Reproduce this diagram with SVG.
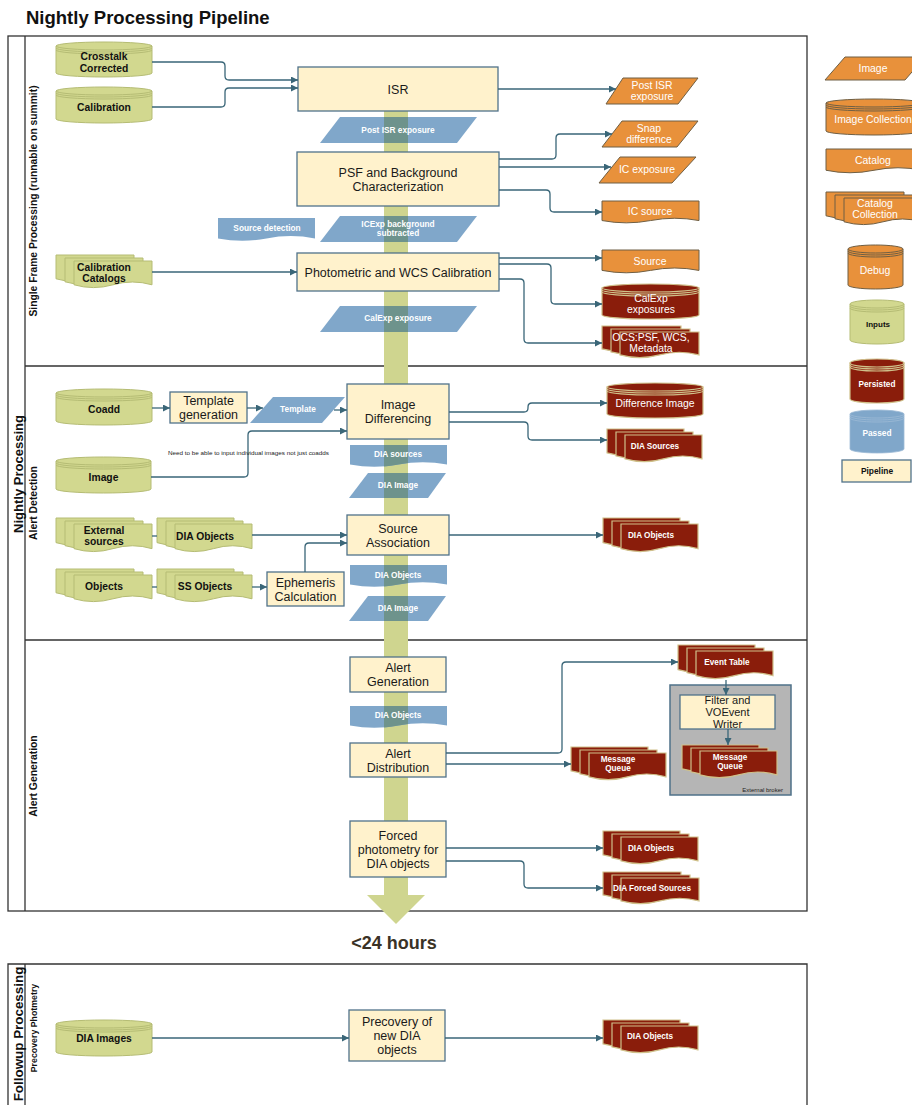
<svg xmlns="http://www.w3.org/2000/svg" width="912" height="1105" viewBox="0 0 912 1105">
<defs>
<style>
.t{font-family:"Liberation Sans",Arial,Helvetica,sans-serif;text-anchor:middle}
.title{font-family:"Liberation Sans",Arial,sans-serif;font-weight:bold;font-size:18.5px;fill:#111}
.lane{font-family:"Liberation Sans",Arial,sans-serif;font-weight:bold;fill:#111;text-anchor:middle}
.frame{fill:none;stroke:#333;stroke-width:1.3}
.box{fill:#fff2cc;stroke:#50728a;stroke-width:1.3}
.g{fill:#d2d88f;stroke:#b5bc74;stroke-width:1}
.o{fill:#e8913b;stroke:#6f5f44;stroke-width:1}
.r{fill:#8a1d0b;stroke:#cfc08a;stroke-width:1.2}
.bm{fill:#80a7ca}
.ov{fill:#6e938c}
.bl{fill:#80a7ca;stroke:#9dbad6;stroke-width:0.8}
.rim{fill:none}
.tp{font-size:12.5px;fill:#1a1a1a}
.tg{font-size:10.3px;font-weight:bold;fill:#111}
.tw{font-size:8.3px;font-weight:bold;fill:#fff}
.to{font-size:10.4px;fill:#fff}
.trb{font-size:8.2px;font-weight:bold;fill:#fff}
.conn{fill:none;stroke:#3a6678;stroke-width:1.3}
.bar{fill:#cfd58f}
</style>
<marker id="ah" viewBox="0 0 10 10" refX="10" refY="5" markerWidth="8" markerHeight="7" markerUnits="userSpaceOnUse" orient="auto"><path d="M0,0 L10,5 L0,10 Z" fill="#3a6678"/></marker>
</defs>
<rect width="912" height="1105" fill="#fff"/>
<text class="title" x="26" y="23.5">Nightly Processing Pipeline</text>

<g id="frames">
<rect class="frame" x="8" y="36" width="799" height="875"/>
<path class="frame" d="M25,36 V911 M25,366 H807 M25,640 H807"/>
<path class="frame" d="M8,1106 V964 H807 V1106 M25,964 V1106"/>
<text class="lane" font-size="13" transform="translate(22.5,474) rotate(-90)">Nightly Processing</text>
<text class="lane" font-size="10.3" transform="translate(37,201) rotate(-90)">Single Frame Processing (runnable on summit)</text>
<text class="lane" font-size="10.4" transform="translate(37,503) rotate(-90)">Alert Detection</text>
<text class="lane" font-size="10.4" transform="translate(37,776) rotate(-90)">Alert Generation</text>
<text class="lane" font-size="13.4" transform="translate(22.5,1034) rotate(-90)">Followup Processing</text>
<text class="lane" font-size="8.8" transform="translate(37,1028) rotate(-90)">Precovery Photmetry</text>
</g>

<g id="flow-bar">
<rect class="bar" x="384" y="111" width="24" height="785"/>
<polygon class="bar" points="367,895 425,895 396,924"/>
</g>
<text class="t" x="394" y="949" font-size="18" font-weight="bold" fill="#3a3226">&lt;24 hours</text>

<!-- blue passed data -->
<g id="post-isr-passed"><polygon class="bm" points="340,117 477,117 457,143 320,143"/><rect class="ov" x="384" y="117" width="24" height="26"/><text class="t tw" x="398" y="133">Post ISR exposure</text></g>
<g id="icexp-passed"><polygon class="bm" points="340,216 477,216 457,242 320,242"/><rect class="ov" x="384" y="216" width="24" height="26"/><text class="t tw" x="398" y="227">ICExp background</text><text class="t tw" x="398" y="236">subtracted</text></g>
<g id="calexp-passed"><polygon class="bm" points="340,306 477,306 457,332 320,332"/><rect class="ov" x="384" y="306" width="24" height="26"/><text class="t tw" x="398" y="321">CalExp exposure</text></g>
<g id="source-detection"><path class="bm" d="M218,218 H315 V238.4 Q290.75,233.6 266.5,238.4 T218,238.4 Z"/><text class="t tw" x="267" y="231">Source detection</text></g>
<g id="template-passed"><polygon class="bm" points="273,397 345,397 322,423 250,423"/><text class="t tw" x="298" y="412">Template</text></g>
<g id="dia-sources-passed"><path class="bm" d="M350,445 H447 V464.55 Q422.75,459.95 398.5,464.55 T350,464.55 Z"/><path class="ov" d="M384,445 H408 V463.1 L398.5,464.55 L391,465.75 L384,466.5 Z"/><text class="t tw" x="398" y="457">DIA sources</text></g>
<g id="dia-image-passed-1"><polygon class="bm" points="368,473 446,473 428,498 349,498"/><rect class="ov" x="384" y="473" width="24" height="25"/><text class="t tw" x="398" y="488">DIA Image</text></g>
<g id="dia-objects-passed-1"><path class="bm" d="M350,565 H447 V584.55 Q422.75,579.95 398.5,584.55 T350,584.55 Z"/><path class="ov" d="M384,565 H408 V583.1 L398.5,584.55 L391,585.75 L384,586.5 Z"/><text class="t tw" x="398" y="578">DIA Objects</text></g>
<g id="dia-image-passed-2"><polygon class="bm" points="368,596 446,596 428,621 349,621"/><rect class="ov" x="384" y="596" width="24" height="25"/><text class="t tw" x="398" y="611">DIA Image</text></g>
<g id="dia-objects-passed-2"><path class="bm" d="M350,706 H447 V725.55 Q422.75,720.95 398.5,725.55 T350,725.55 Z"/><path class="ov" d="M384,706 H408 V724.1 L398.5,725.55 L391,726.75 L384,727.5 Z"/><text class="t tw" x="398" y="718">DIA Objects</text></g>

<!-- pipeline boxes -->
<g id="isr"><rect class="box" x="298" y="67" width="200" height="44"/><text class="t tp" x="398" y="93.5" font-size="13">ISR</text></g>
<g id="psf"><rect class="box" x="297" y="152" width="202" height="54"/><text class="t tp" x="398" y="177">PSF and Background</text><text class="t tp" x="398" y="191">Characterization</text></g>
<g id="photometric"><rect class="box" x="297" y="253" width="202" height="38"/><text class="t tp" x="398" y="277">Photometric and WCS Calibration</text></g>
<g id="template-generation"><rect class="box" x="170" y="392" width="77" height="31"/><text class="t tp" x="208.5" y="405">Template</text><text class="t tp" x="208.5" y="419">generation</text></g>
<g id="image-differencing"><rect class="box" x="347" y="384" width="102" height="55"/><text class="t tp" x="398" y="409">Image</text><text class="t tp" x="398" y="423">Differencing</text></g>
<g id="source-association"><rect class="box" x="347" y="515" width="102" height="40"/><text class="t tp" x="398" y="533">Source</text><text class="t tp" x="398" y="547">Association</text></g>
<g id="ephemeris"><rect class="box" x="267" y="572" width="77" height="34"/><text class="t tp" x="305.5" y="587">Ephemeris</text><text class="t tp" x="305.5" y="601">Calculation</text></g>
<g id="alert-generation"><rect class="box" x="350" y="657" width="96" height="35"/><text class="t tp" x="398" y="672">Alert</text><text class="t tp" x="398" y="686">Generation</text></g>
<g id="alert-distribution"><rect class="box" x="350" y="743" width="96" height="34"/><text class="t tp" x="398" y="758">Alert</text><text class="t tp" x="398" y="772">Distribution</text></g>
<g id="forced-photometry"><rect class="box" x="350" y="821" width="96" height="56"/><text class="t tp" x="398" y="840">Forced</text><text class="t tp" x="398" y="854">photometry for</text><text class="t tp" x="398" y="868">DIA objects</text></g>
<g id="precovery"><rect class="box" x="349" y="1010" width="96" height="51"/><text class="t tp" x="397" y="1026">Precovery of</text><text class="t tp" x="397" y="1040">new DIA</text><text class="t tp" x="397" y="1054">objects</text></g>

<!-- inputs (green) -->
<g id="crosstalk-corrected"><path class="g" d="M56,46 V73 A48,4 0 0 0 152,73 V46 Z"/><ellipse class="g" cx="104" cy="46" rx="48" ry="4"/><path class="g rim" d="M56,48 A48,4 0 0 0 152,48 M56,50 A48,4 0 0 0 152,50"/><text class="t tg" x="104" y="60">Crosstalk</text><text class="t tg" x="104" y="71.5">Corrected</text></g>
<g id="calibration"><path class="g" d="M56,91 V119 A48,4 0 0 0 152,119 V91 Z"/><ellipse class="g" cx="104" cy="91" rx="48" ry="4"/><path class="g rim" d="M56,93 A48,4 0 0 0 152,93 M56,95 A48,4 0 0 0 152,95"/><text class="t tg" x="104" y="111">Calibration</text></g>
<g id="calibration-catalogs"><path class="g" d="M56,255 H134 V278.8 Q114.5,273.2 95,278.8 T56,278.8 Z"/><path class="g" d="M65,258 H143 V281.8 Q123.5,276.2 104,281.8 T65,281.8 Z"/><path class="g" d="M74,261 H152 V284.8 Q132.5,279.2 113,284.8 T74,284.8 Z"/><text class="t tg" x="104" y="271">Calibration</text><text class="t tg" x="104" y="282">Catalogs</text></g>
<g id="coadd"><path class="g" d="M56,393 V421 A48,4 0 0 0 152,421 V393 Z"/><ellipse class="g" cx="104" cy="393" rx="48" ry="4"/><path class="g rim" d="M56,395 A48,4 0 0 0 152,395 M56,397 A48,4 0 0 0 152,397"/><text class="t tg" x="104" y="413">Coadd</text></g>
<g id="image-input"><path class="g" d="M56,461 V489 A47.5,4 0 0 0 151,489 V461 Z"/><ellipse class="g" cx="103.5" cy="461" rx="47.5" ry="4"/><path class="g rim" d="M56,463 A47.5,4 0 0 0 151,463 M56,465 A47.5,4 0 0 0 151,465"/><text class="t tg" x="103.5" y="481">Image</text></g>
<g id="external-sources"><path class="g" d="M56,518 H134 V542.65 Q114.5,536.85 95,542.65 T56,542.65 Z"/><path class="g" d="M65,521 H143 V545.65 Q123.5,539.85 104,545.65 T65,545.65 Z"/><path class="g" d="M74,524 H152 V548.65 Q132.5,542.85 113,548.65 T74,548.65 Z"/><text class="t tg" x="104" y="534">External</text><text class="t tg" x="104" y="545">sources</text></g>
<g id="dia-objects-input"><path class="g" d="M157,518 H234 V542.65 Q214.75,536.85 195.5,542.65 T157,542.65 Z"/><path class="g" d="M166,521 H243 V545.65 Q223.75,539.85 204.5,545.65 T166,545.65 Z"/><path class="g" d="M175,524 H252 V548.65 Q232.75,542.85 213.5,548.65 T175,548.65 Z"/><text class="t tg" x="205" y="540">DIA Objects</text></g>
<g id="objects"><path class="g" d="M56,569 H134 V592.8 Q114.5,587.2 95,592.8 T56,592.8 Z"/><path class="g" d="M65,572 H143 V595.8 Q123.5,590.2 104,595.8 T65,595.8 Z"/><path class="g" d="M74,575 H152 V598.8 Q132.5,593.2 113,598.8 T74,598.8 Z"/><text class="t tg" x="104" y="590">Objects</text></g>
<g id="ss-objects"><path class="g" d="M157,569 H234 V592.8 Q214.75,587.2 195.5,592.8 T157,592.8 Z"/><path class="g" d="M166,572 H243 V595.8 Q223.75,590.2 204.5,595.8 T166,595.8 Z"/><path class="g" d="M175,575 H252 V598.8 Q232.75,593.2 213.5,598.8 T175,598.8 Z"/><text class="t tg" x="205" y="590">SS Objects</text></g>
<g id="dia-images"><path class="g" d="M56,1024 V1052 A48,4 0 0 0 152,1052 V1024 Z"/><ellipse class="g" cx="104" cy="1024" rx="48" ry="4"/><path class="g rim" d="M56,1026 A48,4 0 0 0 152,1026 M56,1028 A48,4 0 0 0 152,1028"/><text class="t tg" x="104" y="1042">DIA Images</text></g>

<!-- outputs (orange) -->
<g id="post-isr-exposure"><polygon class="o" points="623,78 698,78 678,104 606,104"/><text class="t to" x="652" y="89">Post ISR</text><text class="t to" x="652" y="100">exposure</text></g>
<g id="snap-difference"><polygon class="o" points="622,121 698,121 677,147 602,147"/><text class="t to" x="649" y="132">Snap</text><text class="t to" x="649" y="143">difference</text></g>
<g id="ic-exposure"><polygon class="o" points="620,157 696,157 672,183 599,183"/><text class="t to" x="647" y="173">IC exposure</text></g>
<g id="ic-source"><path class="o" d="M602,201 H699 V220.55 Q674.75,215.95 650.5,220.55 T602,220.55 Z"/><text class="t to" x="650" y="215">IC source</text></g>
<g id="source"><path class="o" d="M602,250 H699 V270.4 Q674.75,265.6 650.5,270.4 T602,270.4 Z"/><text class="t to" x="650" y="265">Source</text></g>

<!-- persisted (red) -->
<g id="calexp-exposures"><path class="r" d="M602,288 V315 A48.5,4 0 0 0 699,315 V288 Z"/><ellipse class="r" cx="650.5" cy="288" rx="48.5" ry="4"/><path class="r rim" d="M602,290 A48.5,4 0 0 0 699,290 M602,292 A48.5,4 0 0 0 699,292"/><text class="t to" x="651" y="302">CalExp</text><text class="t to" x="651" y="313">exposures</text></g>
<g id="ocs-metadata"><path class="r" d="M602,326 H681 V348.95 Q661.25,343.55 641.5,348.95 T602,348.95 Z"/><path class="r" d="M611,329 H690 V351.95 Q670.25,346.55 650.5,351.95 T611,351.95 Z"/><path class="r" d="M620,332 H699 V354.95 Q679.25,349.55 659.5,354.95 T620,354.95 Z"/><text class="t to" x="651" y="341">OCS:PSF, WCS,</text><text class="t to" x="651" y="352">Metadata</text></g>
<g id="difference-image"><path class="r" d="M607,387 V414 A48,4 0 0 0 703,414 V387 Z"/><ellipse class="r" cx="655" cy="387" rx="48" ry="4"/><path class="r rim" d="M607,389 A48,4 0 0 0 703,389 M607,391 A48,4 0 0 0 703,391"/><text class="t to" x="655" y="407">Difference Image</text></g>
<g id="dia-sources"><path class="r" d="M607,429 H684 V452.8 Q664.75,447.2 645.5,452.8 T607,452.8 Z"/><path class="r" d="M616,432 H693 V455.8 Q673.75,450.2 654.5,455.8 T616,455.8 Z"/><path class="r" d="M625,435 H702 V458.8 Q682.75,453.2 663.5,458.8 T625,458.8 Z"/><text class="t trb" x="655" y="449">DIA Sources</text></g>
<g id="dia-objects-1"><path class="r" d="M603,518 H680 V542.65 Q660.75,536.85 641.5,542.65 T603,542.65 Z"/><path class="r" d="M612,521 H689 V545.65 Q669.75,539.85 650.5,545.65 T612,545.65 Z"/><path class="r" d="M621,524 H698 V548.65 Q678.75,542.85 659.5,548.65 T621,548.65 Z"/><text class="t trb" x="651" y="538">DIA Objects</text></g>
<g id="event-table"><path class="r" d="M678,645 H755 V669.65 Q735.75,663.85 716.5,669.65 T678,669.65 Z"/><path class="r" d="M687,648 H764 V672.65 Q744.75,666.85 725.5,672.65 T687,672.65 Z"/><path class="r" d="M696,651 H773 V675.65 Q753.75,669.85 734.5,675.65 T696,675.65 Z"/><text class="t trb" x="727" y="665">Event Table</text></g>
<g id="message-queue-1"><path class="r" d="M571,747 H648 V770.8 Q628.75,765.2 609.5,770.8 T571,770.8 Z"/><path class="r" d="M580,750 H657 V773.8 Q637.75,768.2 618.5,773.8 T580,773.8 Z"/><path class="r" d="M589,753 H666 V776.8 Q646.75,771.2 627.5,776.8 T589,776.8 Z"/><text class="t trb" x="618" y="762">Message</text><text class="t trb" x="618" y="771">Queue</text></g>
<g id="external-broker"><rect x="670" y="685" width="121" height="110" fill="#b5b5b5" stroke="#4f7189" stroke-width="1.5"/><text x="783" y="792" font-family="Liberation Sans,Arial,sans-serif" font-size="6" fill="#222" text-anchor="end">External broker</text></g>
<g id="filter-voevent"><rect class="box" x="680" y="695" width="95" height="34"/><text class="t" x="727.5" y="704" font-size="11" fill="#1a1a1a">Filter and</text><text class="t" x="727.5" y="716" font-size="11" fill="#1a1a1a">VOEvent</text><text class="t" x="727.5" y="727.5" font-size="11" fill="#1a1a1a">Writer</text></g>
<g id="message-queue-2"><path class="r" d="M682,745 H759 V768.8 Q739.75,763.2 720.5,768.8 T682,768.8 Z"/><path class="r" d="M691,748 H768 V771.8 Q748.75,766.2 729.5,771.8 T691,771.8 Z"/><path class="r" d="M700,751 H777 V774.8 Q757.75,769.2 738.5,774.8 T700,774.8 Z"/><text class="t trb" x="730" y="760">Message</text><text class="t trb" x="730" y="769">Queue</text></g>
<g id="dia-objects-2"><path class="r" d="M603,831 H680 V854.8 Q660.75,849.2 641.5,854.8 T603,854.8 Z"/><path class="r" d="M612,834 H689 V857.8 Q669.75,852.2 650.5,857.8 T612,857.8 Z"/><path class="r" d="M621,837 H698 V860.8 Q678.75,855.2 659.5,860.8 T621,860.8 Z"/><text class="t trb" x="651" y="851">DIA Objects</text></g>
<g id="dia-forced-sources"><path class="r" d="M603,872 H681 V894.95 Q661.5,889.55 642,894.95 T603,894.95 Z"/><path class="r" d="M612,875 H690 V897.95 Q670.5,892.55 651,897.95 T612,897.95 Z"/><path class="r" d="M621,878 H699 V900.95 Q679.5,895.55 660,900.95 T621,900.95 Z"/><text class="t trb" x="652" y="891">DIA Forced Sources</text></g>
<g id="dia-objects-3"><path class="r" d="M603,1020 H680 V1043.8 Q660.75,1038.2 641.5,1043.8 T603,1043.8 Z"/><path class="r" d="M612,1023 H689 V1046.8 Q669.75,1041.2 650.5,1046.8 T612,1046.8 Z"/><path class="r" d="M621,1026 H698 V1049.8 Q678.75,1044.2 659.5,1049.8 T621,1049.8 Z"/><text class="t trb" x="650" y="1039">DIA Objects</text></g>

<!-- legend -->
<g id="legend-image"><polygon class="o" points="845,57 925,57 905,80 825,80"/><text class="t to" x="873" y="72">Image</text></g>
<g id="legend-image-collection"><path class="o" d="M826,103 V131 A48,4 0 0 0 922,131 V103 Z"/><ellipse class="o" cx="874" cy="103" rx="48" ry="4"/><path class="o rim" d="M826,105 A48,4 0 0 0 922,105 M826,107 A48,4 0 0 0 922,107"/><text class="t to" x="873" y="123">Image Collection</text></g>
<g id="legend-catalog"><path class="o" d="M826,149 H922 V170.25 Q898,165.25 874,170.25 T826,170.25 Z"/><text class="t to" x="873" y="164">Catalog</text></g>
<g id="legend-catalog-collection"><path class="o" d="M826,192 H904 V215.8 Q884.5,210.2 865,215.8 T826,215.8 Z"/><path class="o" d="M835,195 H913 V218.8 Q893.5,213.2 874,218.8 T835,218.8 Z"/><path class="o" d="M844,198 H922 V221.8 Q902.5,216.2 883,221.8 T844,221.8 Z"/><text class="t to" x="875" y="207">Catalog</text><text class="t to" x="875" y="218">Collection</text></g>
<g id="legend-debug"><path class="o" d="M848,249 V285 A27.5,4 0 0 0 903,285 V249 Z"/><ellipse class="o" cx="875.5" cy="249" rx="27.5" ry="4"/><path class="o rim" d="M848,251 A27.5,4 0 0 0 903,251 M848,253 A27.5,4 0 0 0 903,253"/><text class="t to" x="875" y="274">Debug</text></g>
<g id="legend-inputs"><path class="g" d="M850,304 V340 A27,4 0 0 0 904,340 V304 Z"/><ellipse class="g" cx="877" cy="304" rx="27" ry="4"/><path class="g rim" d="M850,306 A27,4 0 0 0 904,306 M850,308 A27,4 0 0 0 904,308"/><text class="t" x="878" y="327" font-size="8" font-weight="bold" fill="#111">Inputs</text></g>
<g id="legend-persisted"><path class="r" d="M850,363 V399 A27,4 0 0 0 904,399 V363 Z"/><ellipse class="r" cx="877" cy="363" rx="27" ry="4"/><path class="r rim" d="M850,365 A27,4 0 0 0 904,365 M850,367 A27,4 0 0 0 904,367"/><text class="t trb" x="877" y="387">Persisted</text></g>
<g id="legend-passed"><path class="bl" d="M850,414 V449 A27,4 0 0 0 904,449 V414 Z"/><ellipse class="bl" cx="877" cy="414" rx="27" ry="4"/><path class="bl rim" d="M850,416 A27,4 0 0 0 904,416 M850,418 A27,4 0 0 0 904,418"/><text class="t tw" x="877" y="436">Passed</text></g>
<g id="legend-pipeline"><rect class="box" x="842" y="460" width="69" height="22"/><text class="t" x="877" y="474" font-size="8.4" font-weight="bold" fill="#111">Pipeline</text></g>

<g id="connectors">
<path class="conn" marker-end="url(#ah)" d="M152,62 H221 Q225,62 225,66 V76 Q225,80 229,80 H298"/>
<path class="conn" marker-end="url(#ah)" d="M152,107 H221 Q225,107 225,103 V92 Q225,88 229,88 H298"/>
<path class="conn" marker-end="url(#ah)" d="M498,89 H616"/>
<path class="conn" marker-end="url(#ah)" d="M499,159 H552 Q556,159 556,155 V138 Q556,134 560,134 H612"/>
<path class="conn" marker-end="url(#ah)" d="M499,167 H611"/>
<path class="conn" marker-end="url(#ah)" d="M499,190 H546 Q550,190 550,194 V208 Q550,212 554,212 H602"/>
<path class="conn" marker-end="url(#ah)" d="M499,258 H602"/>
<path class="conn" marker-end="url(#ah)" d="M499,264 H547 Q551,264 551,268 V300 Q551,304 555,304 H602"/>
<path class="conn" marker-end="url(#ah)" d="M499,279 H520 Q524,279 524,283 V339 Q524,343 528,343 H602"/>
<path class="conn" marker-end="url(#ah)" d="M152,272 H297"/>
<path class="conn" marker-end="url(#ah)" d="M152,408 H170"/>
<path class="conn" marker-end="url(#ah)" d="M247,408 H263"/>
<path class="conn" marker-end="url(#ah)" d="M334,410 H347"/>
<path class="conn" marker-end="url(#ah)" d="M151,477 H244 Q248,477 248,473 V435 Q248,431 252,431 H347"/>
<path class="conn" marker-end="url(#ah)" d="M449,412 H524 Q528,412 528,408 V407 Q528,403 532,403 H607"/>
<path class="conn" marker-end="url(#ah)" d="M449,422 H524 Q528,422 528,426 V436 Q528,440 532,440 H607"/>
<path class="conn" d="M152,536 H157"/>
<path class="conn" marker-end="url(#ah)" d="M252,535 H347"/>
<path class="conn" d="M152,587 H157"/>
<path class="conn" marker-end="url(#ah)" d="M252,587 H267"/>
<path class="conn" marker-end="url(#ah)" d="M305,572 V547 Q305,543 309,543 H347"/>
<path class="conn" marker-end="url(#ah)" d="M449,535 H603"/>
<path class="conn" marker-end="url(#ah)" d="M446,753 H558 Q562,753 562,749 V666 Q562,662 566,662 H678"/>
<path class="conn" marker-end="url(#ah)" d="M446,764 H571"/>
<path class="conn" marker-end="url(#ah)" d="M726,680 V695"/>
<path class="conn" marker-end="url(#ah)" d="M728,729 V745"/>
<path class="conn" marker-end="url(#ah)" d="M446,848 H603"/>
<path class="conn" marker-end="url(#ah)" d="M446,861 H520 Q524,861 524,865 V884 Q524,888 528,888 H603"/>
<path class="conn" marker-end="url(#ah)" d="M152,1038 H349"/>
<path class="conn" marker-end="url(#ah)" d="M445,1038 H603"/>
</g>
<text x="248.5" y="455" font-family="Liberation Sans,Arial,sans-serif" font-size="5.8" fill="#222" text-anchor="middle" textLength="161" lengthAdjust="spacingAndGlyphs">Need to be able to input individual images not just coadds</text>
</svg>
